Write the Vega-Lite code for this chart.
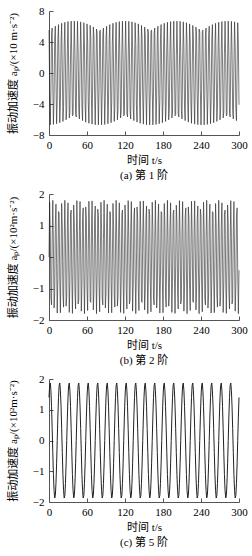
{
"$schema": "https://vega.github.io/schema/vega-lite/v6.json",
"padding": {"left": 7, "top": 5, "right": 0, "bottom": 0},
"autosize": {"type": "pad"},
"config": {
  "view": {"stroke": null},
  "font": "Liberation Serif, Noto Sans CJK SC",
  "axis": {"grid": false, "domainColor": "#555", "tickColor": "#555", "tickSize": -4, "domainWidth": 1, "tickWidth": 1,
    "labelFont": "Liberation Serif", "labelFontSize": 11, "labelColor": "#000", "labelPadding": 9,
    "titleFont": "Liberation Serif, Noto Sans CJK SC", "titleFontSize": 11, "titleFontWeight": "normal", "titleColor": "#000"},
  "axisX": {"labelPadding": 8},
  "title": {"font": "Liberation Serif, Noto Sans CJK SC", "fontSize": 11, "fontWeight": "normal", "color": "#000", "offset": 5}
},
"bounds": "flush",
"spacing": 59,
"datasets": {
"p1": [
{"t":0,"a":5.53},{"t":1,"a":-1.80},{"t":2,"a":-6.69},{"t":3,"a":-2.53},{"t":4,"a":5.05},{"t":5,"a":5.80},{"t":6,"a":-1.29},{"t":7,"a":-6.64},{"t":8,"a":-3.01},{"t":9,"a":4.69},
{"t":10,"a":6.04},{"t":11,"a":-0.78},{"t":12,"a":-6.55},{"t":13,"a":-3.46},{"t":14,"a":4.31},{"t":15,"a":6.25},{"t":16,"a":-0.26},{"t":17,"a":-6.42},{"t":18,"a":-3.90},{"t":19,"a":3.90},
{"t":20,"a":6.42},{"t":21,"a":0.26},{"t":22,"a":-6.25},{"t":23,"a":-4.31},{"t":24,"a":3.46},{"t":25,"a":6.55},{"t":26,"a":0.78},{"t":27,"a":-6.04},{"t":28,"a":-4.69},{"t":29,"a":3.01},
{"t":30,"a":6.64},{"t":31,"a":1.29},{"t":32,"a":-5.80},{"t":33,"a":-5.05},{"t":34,"a":2.53},{"t":35,"a":6.69},{"t":36,"a":1.80},{"t":37,"a":-5.53},{"t":38,"a":-5.37},{"t":39,"a":2.05},
{"t":40,"a":6.70},{"t":41,"a":2.29},{"t":42,"a":-5.22},{"t":43,"a":-5.67},{"t":44,"a":1.55},{"t":45,"a":6.67},{"t":46,"a":2.77},{"t":47,"a":-4.87},{"t":48,"a":-5.93},{"t":49,"a":1.04},
{"t":50,"a":6.60},{"t":51,"a":3.24},{"t":52,"a":-4.50},{"t":53,"a":-6.15},{"t":54,"a":0.52},{"t":55,"a":6.49},{"t":56,"a":3.68},{"t":57,"a":-4.10},{"t":58,"a":-6.34},{"t":59,"a":0},
{"t":60,"a":6.34},{"t":61,"a":4.10},{"t":62,"a":-3.68},{"t":63,"a":-6.49},{"t":64,"a":-0.52},{"t":65,"a":6.15},{"t":66,"a":4.50},{"t":67,"a":-3.24},{"t":68,"a":-6.60},{"t":69,"a":-1.04},
{"t":70,"a":5.93},{"t":71,"a":4.87},{"t":72,"a":-2.77},{"t":73,"a":-6.67},{"t":74,"a":-1.55},{"t":75,"a":5.67},{"t":76,"a":5.22},{"t":77,"a":-2.29},{"t":78,"a":-6.70},{"t":79,"a":-2.05},
{"t":80,"a":5.37},
{"t":81,"a":5.53},{"t":82,"a":-1.80},{"t":83,"a":-6.69},{"t":84,"a":-2.53},{"t":85,"a":5.05},{"t":86,"a":5.80},{"t":87,"a":-1.29},{"t":88,"a":-6.64},{"t":89,"a":-3.01},{"t":90,"a":4.69},
{"t":91,"a":6.04},{"t":92,"a":-0.78},{"t":93,"a":-6.55},{"t":94,"a":-3.46},{"t":95,"a":4.31},{"t":96,"a":6.25},{"t":97,"a":-0.26},{"t":98,"a":-6.42},{"t":99,"a":-3.90},{"t":100,"a":3.90},
{"t":101,"a":6.42},{"t":102,"a":0.26},{"t":103,"a":-6.25},{"t":104,"a":-4.31},{"t":105,"a":3.46},{"t":106,"a":6.55},{"t":107,"a":0.78},{"t":108,"a":-6.04},{"t":109,"a":-4.69},{"t":110,"a":3.01},
{"t":111,"a":6.64},{"t":112,"a":1.29},{"t":113,"a":-5.80},{"t":114,"a":-5.05},{"t":115,"a":2.53},{"t":116,"a":6.69},{"t":117,"a":1.80},{"t":118,"a":-5.53},{"t":119,"a":-5.37},{"t":120,"a":2.05},
{"t":121,"a":6.70},{"t":122,"a":2.29},{"t":123,"a":-5.22},{"t":124,"a":-5.67},{"t":125,"a":1.55},{"t":126,"a":6.67},{"t":127,"a":2.77},{"t":128,"a":-4.87},{"t":129,"a":-5.93},{"t":130,"a":1.04},
{"t":131,"a":6.60},{"t":132,"a":3.24},{"t":133,"a":-4.50},{"t":134,"a":-6.15},{"t":135,"a":0.52},{"t":136,"a":6.49},{"t":137,"a":3.68},{"t":138,"a":-4.10},{"t":139,"a":-6.34},{"t":140,"a":0},
{"t":141,"a":6.34},{"t":142,"a":4.10},{"t":143,"a":-3.68},{"t":144,"a":-6.49},{"t":145,"a":-0.52},{"t":146,"a":6.15},{"t":147,"a":4.50},{"t":148,"a":-3.24},{"t":149,"a":-6.60},{"t":150,"a":-1.04},
{"t":151,"a":5.93},{"t":152,"a":4.87},{"t":153,"a":-2.77},{"t":154,"a":-6.67},{"t":155,"a":-1.55},{"t":156,"a":5.67},{"t":157,"a":5.22},{"t":158,"a":-2.29},{"t":159,"a":-6.70},{"t":160,"a":-2.05},
{"t":161,"a":5.37},
{"t":162,"a":5.53},{"t":163,"a":-1.80},{"t":164,"a":-6.69},{"t":165,"a":-2.53},{"t":166,"a":5.05},{"t":167,"a":5.80},{"t":168,"a":-1.29},{"t":169,"a":-6.64},{"t":170,"a":-3.01},{"t":171,"a":4.69},
{"t":172,"a":6.04},{"t":173,"a":-0.78},{"t":174,"a":-6.55},{"t":175,"a":-3.46},{"t":176,"a":4.31},{"t":177,"a":6.25},{"t":178,"a":-0.26},{"t":179,"a":-6.42},{"t":180,"a":-3.90},{"t":181,"a":3.90},
{"t":182,"a":6.42},{"t":183,"a":0.26},{"t":184,"a":-6.25},{"t":185,"a":-4.31},{"t":186,"a":3.46},{"t":187,"a":6.55},{"t":188,"a":0.78},{"t":189,"a":-6.04},{"t":190,"a":-4.69},{"t":191,"a":3.01},
{"t":192,"a":6.64},{"t":193,"a":1.29},{"t":194,"a":-5.80},{"t":195,"a":-5.05},{"t":196,"a":2.53},{"t":197,"a":6.69},{"t":198,"a":1.80},{"t":199,"a":-5.53},{"t":200,"a":-5.37},{"t":201,"a":2.05},
{"t":202,"a":6.70},{"t":203,"a":2.29},{"t":204,"a":-5.22},{"t":205,"a":-5.67},{"t":206,"a":1.55},{"t":207,"a":6.67},{"t":208,"a":2.77},{"t":209,"a":-4.87},{"t":210,"a":-5.93},{"t":211,"a":1.04},
{"t":212,"a":6.60},{"t":213,"a":3.24},{"t":214,"a":-4.50},{"t":215,"a":-6.15},{"t":216,"a":0.52},{"t":217,"a":6.49},{"t":218,"a":3.68},{"t":219,"a":-4.10},{"t":220,"a":-6.34},{"t":221,"a":0},
{"t":222,"a":6.34},{"t":223,"a":4.10},{"t":224,"a":-3.68},{"t":225,"a":-6.49},{"t":226,"a":-0.52},{"t":227,"a":6.15},{"t":228,"a":4.50},{"t":229,"a":-3.24},{"t":230,"a":-6.60},{"t":231,"a":-1.04},
{"t":232,"a":5.93},{"t":233,"a":4.87},{"t":234,"a":-2.77},{"t":235,"a":-6.67},{"t":236,"a":-1.55},{"t":237,"a":5.67},{"t":238,"a":5.22},{"t":239,"a":-2.29},{"t":240,"a":-6.70},{"t":241,"a":-2.05},
{"t":242,"a":5.37},
{"t":243,"a":5.53},{"t":244,"a":-1.80},{"t":245,"a":-6.69},{"t":246,"a":-2.53},{"t":247,"a":5.05},{"t":248,"a":5.80},{"t":249,"a":-1.29},{"t":250,"a":-6.64},{"t":251,"a":-3.01},{"t":252,"a":4.69},
{"t":253,"a":6.04},{"t":254,"a":-0.78},{"t":255,"a":-6.55},{"t":256,"a":-3.46},{"t":257,"a":4.31},{"t":258,"a":6.25},{"t":259,"a":-0.26},{"t":260,"a":-6.42},{"t":261,"a":-3.90},{"t":262,"a":3.90},
{"t":263,"a":6.42},{"t":264,"a":0.26},{"t":265,"a":-6.25},{"t":266,"a":-4.31},{"t":267,"a":3.46},{"t":268,"a":6.55},{"t":269,"a":0.78},{"t":270,"a":-6.04},{"t":271,"a":-4.69},{"t":272,"a":3.01},
{"t":273,"a":6.64},{"t":274,"a":1.29},{"t":275,"a":-5.80},{"t":276,"a":-5.05},{"t":277,"a":2.53},{"t":278,"a":6.69},{"t":279,"a":1.80},{"t":280,"a":-5.53},{"t":281,"a":-5.37},{"t":282,"a":2.05},
{"t":283,"a":6.70},{"t":284,"a":2.29},{"t":285,"a":-5.22},{"t":286,"a":-5.67},{"t":287,"a":1.55},{"t":288,"a":6.67},{"t":289,"a":2.77},{"t":290,"a":-4.87},{"t":291,"a":-5.93},{"t":292,"a":1.04},
{"t":293,"a":6.60},{"t":294,"a":3.24},{"t":295,"a":-4.50},{"t":296,"a":-6.15},{"t":297,"a":0.52},{"t":298,"a":6.49},{"t":299,"a":3.68},{"t":300,"a":-4.10}
],
"p2": [
{"t":0,"a":0},{"t":1,"a":1.74},{"t":2,"a":0.87},{"t":3,"a":-1.31},{"t":4,"a":-1.52},{"t":5,"a":0.55},{"t":6,"a":1.80},{"t":7,"a":0.35},{"t":8,"a":-1.62},{"t":9,"a":-1.16},
{"t":10,"a":1.05},{"t":11,"a":1.68},{"t":12,"a":-0.21},{"t":13,"a":-1.78},{"t":14,"a":-0.68},{"t":15,"a":1.44},{"t":16,"a":1.40},{"t":17,"a":-0.74},{"t":18,"a":-1.77},{"t":19,"a":-0.14},
{"t":20,"a":1.70},{"t":21,"a":0.99},{"t":22,"a":-1.21},{"t":23,"a":-1.59},{"t":24,"a":0.42},{"t":25,"a":1.80},{"t":26,"a":0.48},{"t":27,"a":-1.56},{"t":28,"a":-1.26},{"t":29,"a":0.93},
{"t":30,"a":1.72},{"t":31,"a":-0.07},{"t":32,"a":-1.76},{"t":33,"a":-0.81},{"t":34,"a":1.36},{"t":35,"a":1.49},{"t":36,"a":-0.62},{"t":37,"a":-1.79},{"t":38,"a":-0.28},{"t":39,"a":1.65},
{"t":40,"a":1.10},{"t":41,"a":-1.10},{"t":42,"a":-1.65},{"t":43,"a":0.28},{"t":44,"a":1.79},{"t":45,"a":0.62},{"t":46,"a":-1.49},{"t":47,"a":-1.36},{"t":48,"a":0.81},{"t":49,"a":1.76},
{"t":50,"a":0.07},{"t":51,"a":-1.72},{"t":52,"a":-0.93},{"t":53,"a":1.26},{"t":54,"a":1.56},{"t":55,"a":-0.48},{"t":56,"a":-1.80},{"t":57,"a":-0.42},{"t":58,"a":1.59},{"t":59,"a":1.21},
{"t":60,"a":-0.99},{"t":61,"a":-1.70},{"t":62,"a":0.14},{"t":63,"a":1.77},{"t":64,"a":0.74},{"t":65,"a":-1.40},{"t":66,"a":-1.44},{"t":67,"a":0.68},{"t":68,"a":1.78},{"t":69,"a":0.21},
{"t":70,"a":-1.68},{"t":71,"a":-1.05},{"t":72,"a":1.16},{"t":73,"a":1.62},{"t":74,"a":-0.35},{"t":75,"a":-1.80},{"t":76,"a":-0.55},{"t":77,"a":1.52},{"t":78,"a":1.31},{"t":79,"a":-0.87},
{"t":80,"a":-1.74},
{"t":81,"a":0},{"t":82,"a":1.74},{"t":83,"a":0.87},{"t":84,"a":-1.31},{"t":85,"a":-1.52},{"t":86,"a":0.55},{"t":87,"a":1.80},{"t":88,"a":0.35},{"t":89,"a":-1.62},{"t":90,"a":-1.16},
{"t":91,"a":1.05},{"t":92,"a":1.68},{"t":93,"a":-0.21},{"t":94,"a":-1.78},{"t":95,"a":-0.68},{"t":96,"a":1.44},{"t":97,"a":1.40},{"t":98,"a":-0.74},{"t":99,"a":-1.77},{"t":100,"a":-0.14},
{"t":101,"a":1.70},{"t":102,"a":0.99},{"t":103,"a":-1.21},{"t":104,"a":-1.59},{"t":105,"a":0.42},{"t":106,"a":1.80},{"t":107,"a":0.48},{"t":108,"a":-1.56},{"t":109,"a":-1.26},{"t":110,"a":0.93},
{"t":111,"a":1.72},{"t":112,"a":-0.07},{"t":113,"a":-1.76},{"t":114,"a":-0.81},{"t":115,"a":1.36},{"t":116,"a":1.49},{"t":117,"a":-0.62},{"t":118,"a":-1.79},{"t":119,"a":-0.28},{"t":120,"a":1.65},
{"t":121,"a":1.10},{"t":122,"a":-1.10},{"t":123,"a":-1.65},{"t":124,"a":0.28},{"t":125,"a":1.79},{"t":126,"a":0.62},{"t":127,"a":-1.49},{"t":128,"a":-1.36},{"t":129,"a":0.81},{"t":130,"a":1.76},
{"t":131,"a":0.07},{"t":132,"a":-1.72},{"t":133,"a":-0.93},{"t":134,"a":1.26},{"t":135,"a":1.56},{"t":136,"a":-0.48},{"t":137,"a":-1.80},{"t":138,"a":-0.42},{"t":139,"a":1.59},{"t":140,"a":1.21},
{"t":141,"a":-0.99},{"t":142,"a":-1.70},{"t":143,"a":0.14},{"t":144,"a":1.77},{"t":145,"a":0.74},{"t":146,"a":-1.40},{"t":147,"a":-1.44},{"t":148,"a":0.68},{"t":149,"a":1.78},{"t":150,"a":0.21},
{"t":151,"a":-1.68},{"t":152,"a":-1.05},{"t":153,"a":1.16},{"t":154,"a":1.62},{"t":155,"a":-0.35},{"t":156,"a":-1.80},{"t":157,"a":-0.55},{"t":158,"a":1.52},{"t":159,"a":1.31},{"t":160,"a":-0.87},
{"t":161,"a":-1.74},
{"t":162,"a":0},{"t":163,"a":1.74},{"t":164,"a":0.87},{"t":165,"a":-1.31},{"t":166,"a":-1.52},{"t":167,"a":0.55},{"t":168,"a":1.80},{"t":169,"a":0.35},{"t":170,"a":-1.62},{"t":171,"a":-1.16},
{"t":172,"a":1.05},{"t":173,"a":1.68},{"t":174,"a":-0.21},{"t":175,"a":-1.78},{"t":176,"a":-0.68},{"t":177,"a":1.44},{"t":178,"a":1.40},{"t":179,"a":-0.74},{"t":180,"a":-1.77},{"t":181,"a":-0.14},
{"t":182,"a":1.70},{"t":183,"a":0.99},{"t":184,"a":-1.21},{"t":185,"a":-1.59},{"t":186,"a":0.42},{"t":187,"a":1.80},{"t":188,"a":0.48},{"t":189,"a":-1.56},{"t":190,"a":-1.26},{"t":191,"a":0.93},
{"t":192,"a":1.72},{"t":193,"a":-0.07},{"t":194,"a":-1.76},{"t":195,"a":-0.81},{"t":196,"a":1.36},{"t":197,"a":1.49},{"t":198,"a":-0.62},{"t":199,"a":-1.79},{"t":200,"a":-0.28},{"t":201,"a":1.65},
{"t":202,"a":1.10},{"t":203,"a":-1.10},{"t":204,"a":-1.65},{"t":205,"a":0.28},{"t":206,"a":1.79},{"t":207,"a":0.62},{"t":208,"a":-1.49},{"t":209,"a":-1.36},{"t":210,"a":0.81},{"t":211,"a":1.76},
{"t":212,"a":0.07},{"t":213,"a":-1.72},{"t":214,"a":-0.93},{"t":215,"a":1.26},{"t":216,"a":1.56},{"t":217,"a":-0.48},{"t":218,"a":-1.80},{"t":219,"a":-0.42},{"t":220,"a":1.59},{"t":221,"a":1.21},
{"t":222,"a":-0.99},{"t":223,"a":-1.70},{"t":224,"a":0.14},{"t":225,"a":1.77},{"t":226,"a":0.74},{"t":227,"a":-1.40},{"t":228,"a":-1.44},{"t":229,"a":0.68},{"t":230,"a":1.78},{"t":231,"a":0.21},
{"t":232,"a":-1.68},{"t":233,"a":-1.05},{"t":234,"a":1.16},{"t":235,"a":1.62},{"t":236,"a":-0.35},{"t":237,"a":-1.80},{"t":238,"a":-0.55},{"t":239,"a":1.52},{"t":240,"a":1.31},{"t":241,"a":-0.87},
{"t":242,"a":-1.74},
{"t":243,"a":0},{"t":244,"a":1.74},{"t":245,"a":0.87},{"t":246,"a":-1.31},{"t":247,"a":-1.52},{"t":248,"a":0.55},{"t":249,"a":1.80},{"t":250,"a":0.35},{"t":251,"a":-1.62},{"t":252,"a":-1.16},
{"t":253,"a":1.05},{"t":254,"a":1.68},{"t":255,"a":-0.21},{"t":256,"a":-1.78},{"t":257,"a":-0.68},{"t":258,"a":1.44},{"t":259,"a":1.40},{"t":260,"a":-0.74},{"t":261,"a":-1.77},{"t":262,"a":-0.14},
{"t":263,"a":1.70},{"t":264,"a":0.99},{"t":265,"a":-1.21},{"t":266,"a":-1.59},{"t":267,"a":0.42},{"t":268,"a":1.80},{"t":269,"a":0.48},{"t":270,"a":-1.56},{"t":271,"a":-1.26},{"t":272,"a":0.93},
{"t":273,"a":1.72},{"t":274,"a":-0.07},{"t":275,"a":-1.76},{"t":276,"a":-0.81},{"t":277,"a":1.36},{"t":278,"a":1.49},{"t":279,"a":-0.62},{"t":280,"a":-1.79},{"t":281,"a":-0.28},{"t":282,"a":1.65},
{"t":283,"a":1.10},{"t":284,"a":-1.10},{"t":285,"a":-1.65},{"t":286,"a":0.28},{"t":287,"a":1.79},{"t":288,"a":0.62},{"t":289,"a":-1.49},{"t":290,"a":-1.36},{"t":291,"a":0.81},{"t":292,"a":1.76},
{"t":293,"a":0.07},{"t":294,"a":-1.72},{"t":295,"a":-0.93},{"t":296,"a":1.26},{"t":297,"a":1.56},{"t":298,"a":-0.48},{"t":299,"a":-1.80},{"t":300,"a":-0.42}
],
"p3": [
{"t":0,"a":1.40},{"t":1,"a":1.79},{"t":2,"a":1.87},{"t":3,"a":1.63},{"t":4,"a":1.11},{"t":5,"a":0.39},{"t":6,"a":-0.39},{"t":7,"a":-1.11},{"t":8,"a":-1.63},{"t":9,"a":-1.87},{"t":10,"a":-1.79},{"t":11,"a":-1.40},{"t":12,"a":-0.76},{"t":13,"a":0},{"t":14,"a":0.76},
{"t":15,"a":1.40},{"t":16,"a":1.79},{"t":17,"a":1.87},{"t":18,"a":1.63},{"t":19,"a":1.11},{"t":20,"a":0.39},{"t":21,"a":-0.39},{"t":22,"a":-1.11},{"t":23,"a":-1.63},{"t":24,"a":-1.87},{"t":25,"a":-1.79},{"t":26,"a":-1.40},{"t":27,"a":-0.76},{"t":28,"a":0},{"t":29,"a":0.76},
{"t":30,"a":1.40},{"t":31,"a":1.79},{"t":32,"a":1.87},{"t":33,"a":1.63},{"t":34,"a":1.11},{"t":35,"a":0.39},{"t":36,"a":-0.39},{"t":37,"a":-1.11},{"t":38,"a":-1.63},{"t":39,"a":-1.87},{"t":40,"a":-1.79},{"t":41,"a":-1.40},{"t":42,"a":-0.76},{"t":43,"a":0},{"t":44,"a":0.76},
{"t":45,"a":1.40},{"t":46,"a":1.79},{"t":47,"a":1.87},{"t":48,"a":1.63},{"t":49,"a":1.11},{"t":50,"a":0.39},{"t":51,"a":-0.39},{"t":52,"a":-1.11},{"t":53,"a":-1.63},{"t":54,"a":-1.87},{"t":55,"a":-1.79},{"t":56,"a":-1.40},{"t":57,"a":-0.76},{"t":58,"a":0},{"t":59,"a":0.76},
{"t":60,"a":1.40},{"t":61,"a":1.79},{"t":62,"a":1.87},{"t":63,"a":1.63},{"t":64,"a":1.11},{"t":65,"a":0.39},{"t":66,"a":-0.39},{"t":67,"a":-1.11},{"t":68,"a":-1.63},{"t":69,"a":-1.87},{"t":70,"a":-1.79},{"t":71,"a":-1.40},{"t":72,"a":-0.76},{"t":73,"a":0},{"t":74,"a":0.76},
{"t":75,"a":1.40},{"t":76,"a":1.79},{"t":77,"a":1.87},{"t":78,"a":1.63},{"t":79,"a":1.11},{"t":80,"a":0.39},{"t":81,"a":-0.39},{"t":82,"a":-1.11},{"t":83,"a":-1.63},{"t":84,"a":-1.87},{"t":85,"a":-1.79},{"t":86,"a":-1.40},{"t":87,"a":-0.76},{"t":88,"a":0},{"t":89,"a":0.76},
{"t":90,"a":1.40},{"t":91,"a":1.79},{"t":92,"a":1.87},{"t":93,"a":1.63},{"t":94,"a":1.11},{"t":95,"a":0.39},{"t":96,"a":-0.39},{"t":97,"a":-1.11},{"t":98,"a":-1.63},{"t":99,"a":-1.87},{"t":100,"a":-1.79},{"t":101,"a":-1.40},{"t":102,"a":-0.76},{"t":103,"a":0},{"t":104,"a":0.76},
{"t":105,"a":1.40},{"t":106,"a":1.79},{"t":107,"a":1.87},{"t":108,"a":1.63},{"t":109,"a":1.11},{"t":110,"a":0.39},{"t":111,"a":-0.39},{"t":112,"a":-1.11},{"t":113,"a":-1.63},{"t":114,"a":-1.87},{"t":115,"a":-1.79},{"t":116,"a":-1.40},{"t":117,"a":-0.76},{"t":118,"a":0},{"t":119,"a":0.76},
{"t":120,"a":1.40},{"t":121,"a":1.79},{"t":122,"a":1.87},{"t":123,"a":1.63},{"t":124,"a":1.11},{"t":125,"a":0.39},{"t":126,"a":-0.39},{"t":127,"a":-1.11},{"t":128,"a":-1.63},{"t":129,"a":-1.87},{"t":130,"a":-1.79},{"t":131,"a":-1.40},{"t":132,"a":-0.76},{"t":133,"a":0},{"t":134,"a":0.76},
{"t":135,"a":1.40},{"t":136,"a":1.79},{"t":137,"a":1.87},{"t":138,"a":1.63},{"t":139,"a":1.11},{"t":140,"a":0.39},{"t":141,"a":-0.39},{"t":142,"a":-1.11},{"t":143,"a":-1.63},{"t":144,"a":-1.87},{"t":145,"a":-1.79},{"t":146,"a":-1.40},{"t":147,"a":-0.76},{"t":148,"a":0},{"t":149,"a":0.76},
{"t":150,"a":1.40},{"t":151,"a":1.79},{"t":152,"a":1.87},{"t":153,"a":1.63},{"t":154,"a":1.11},{"t":155,"a":0.39},{"t":156,"a":-0.39},{"t":157,"a":-1.11},{"t":158,"a":-1.63},{"t":159,"a":-1.87},{"t":160,"a":-1.79},{"t":161,"a":-1.40},{"t":162,"a":-0.76},{"t":163,"a":0},{"t":164,"a":0.76},
{"t":165,"a":1.40},{"t":166,"a":1.79},{"t":167,"a":1.87},{"t":168,"a":1.63},{"t":169,"a":1.11},{"t":170,"a":0.39},{"t":171,"a":-0.39},{"t":172,"a":-1.11},{"t":173,"a":-1.63},{"t":174,"a":-1.87},{"t":175,"a":-1.79},{"t":176,"a":-1.40},{"t":177,"a":-0.76},{"t":178,"a":0},{"t":179,"a":0.76},
{"t":180,"a":1.40},{"t":181,"a":1.79},{"t":182,"a":1.87},{"t":183,"a":1.63},{"t":184,"a":1.11},{"t":185,"a":0.39},{"t":186,"a":-0.39},{"t":187,"a":-1.11},{"t":188,"a":-1.63},{"t":189,"a":-1.87},{"t":190,"a":-1.79},{"t":191,"a":-1.40},{"t":192,"a":-0.76},{"t":193,"a":0},{"t":194,"a":0.76},
{"t":195,"a":1.40},{"t":196,"a":1.79},{"t":197,"a":1.87},{"t":198,"a":1.63},{"t":199,"a":1.11},{"t":200,"a":0.39},{"t":201,"a":-0.39},{"t":202,"a":-1.11},{"t":203,"a":-1.63},{"t":204,"a":-1.87},{"t":205,"a":-1.79},{"t":206,"a":-1.40},{"t":207,"a":-0.76},{"t":208,"a":0},{"t":209,"a":0.76},
{"t":210,"a":1.40},{"t":211,"a":1.79},{"t":212,"a":1.87},{"t":213,"a":1.63},{"t":214,"a":1.11},{"t":215,"a":0.39},{"t":216,"a":-0.39},{"t":217,"a":-1.11},{"t":218,"a":-1.63},{"t":219,"a":-1.87},{"t":220,"a":-1.79},{"t":221,"a":-1.40},{"t":222,"a":-0.76},{"t":223,"a":0},{"t":224,"a":0.76},
{"t":225,"a":1.40},{"t":226,"a":1.79},{"t":227,"a":1.87},{"t":228,"a":1.63},{"t":229,"a":1.11},{"t":230,"a":0.39},{"t":231,"a":-0.39},{"t":232,"a":-1.11},{"t":233,"a":-1.63},{"t":234,"a":-1.87},{"t":235,"a":-1.79},{"t":236,"a":-1.40},{"t":237,"a":-0.76},{"t":238,"a":0},{"t":239,"a":0.76},
{"t":240,"a":1.40},{"t":241,"a":1.79},{"t":242,"a":1.87},{"t":243,"a":1.63},{"t":244,"a":1.11},{"t":245,"a":0.39},{"t":246,"a":-0.39},{"t":247,"a":-1.11},{"t":248,"a":-1.63},{"t":249,"a":-1.87},{"t":250,"a":-1.79},{"t":251,"a":-1.40},{"t":252,"a":-0.76},{"t":253,"a":0},{"t":254,"a":0.76},
{"t":255,"a":1.40},{"t":256,"a":1.79},{"t":257,"a":1.87},{"t":258,"a":1.63},{"t":259,"a":1.11},{"t":260,"a":0.39},{"t":261,"a":-0.39},{"t":262,"a":-1.11},{"t":263,"a":-1.63},{"t":264,"a":-1.87},{"t":265,"a":-1.79},{"t":266,"a":-1.40},{"t":267,"a":-0.76},{"t":268,"a":0},{"t":269,"a":0.76},
{"t":270,"a":1.40},{"t":271,"a":1.79},{"t":272,"a":1.87},{"t":273,"a":1.63},{"t":274,"a":1.11},{"t":275,"a":0.39},{"t":276,"a":-0.39},{"t":277,"a":-1.11},{"t":278,"a":-1.63},{"t":279,"a":-1.87},{"t":280,"a":-1.79},{"t":281,"a":-1.40},{"t":282,"a":-0.76},{"t":283,"a":0},{"t":284,"a":0.76},
{"t":285,"a":1.40},{"t":286,"a":1.79},{"t":287,"a":1.87},{"t":288,"a":1.63},{"t":289,"a":1.11},{"t":290,"a":0.39},{"t":291,"a":-0.39},{"t":292,"a":-1.11},{"t":293,"a":-1.63},{"t":294,"a":-1.87},{"t":295,"a":-1.79},{"t":296,"a":-1.40},{"t":297,"a":-0.76},{"t":298,"a":0},{"t":299,"a":0.76},
{"t":300,"a":1.40}
]
},
"vconcat": [
{
  "data": {"name": "p1"},
  "width": 190, "height": 124,
  "title": {"text": "(a) 第 1 阶", "orient": "bottom"},
  "mark": {"type": "line", "color": "#222", "strokeWidth": 0.6},
  "encoding": {
    "x": {"field": "t", "type": "quantitative", "scale": {"domain": [0, 300], "nice": false}, "axis": {"values": [0,60,120,180,240,300], "labelFlush": false, "title": "时间 t/s", "titlePadding": 4}},
    "y": {"field": "a", "type": "quantitative", "scale": {"domain": [-8, 8], "nice": false}, "axis": {"values": [-8,-4,0,4,8], "title": "振动加速度 aₚ/(×10 m·s⁻²)", "titlePadding": 14}}
  }
},
{
  "data": {"name": "p2"},
  "width": 190, "height": 126,
  "title": {"text": "(b) 第 2 阶", "orient": "bottom"},
  "mark": {"type": "line", "color": "#222", "strokeWidth": 0.6},
  "encoding": {
    "x": {"field": "t", "type": "quantitative", "scale": {"domain": [0, 300], "nice": false}, "axis": {"values": [0,60,120,180,240,300], "labelFlush": false, "title": "时间 t/s", "titlePadding": 4}},
    "y": {"field": "a", "type": "quantitative", "scale": {"domain": [-2, 2], "nice": false}, "axis": {"values": [-2,-1,0,1,2], "title": "振动加速度 aₚ/(×10²m·s⁻²)", "titlePadding": 14}}
  }
},
{
  "data": {"name": "p3"},
  "width": 190, "height": 123,
  "title": {"text": "(c) 第 5 阶", "orient": "bottom"},
  "mark": {"type": "line", "color": "#222", "strokeWidth": 1},
  "encoding": {
    "x": {"field": "t", "type": "quantitative", "scale": {"domain": [0, 300], "nice": false}, "axis": {"values": [0,60,120,180,240,300], "labelFlush": false, "title": "时间 t/s", "titlePadding": 4}},
    "y": {"field": "a", "type": "quantitative", "scale": {"domain": [-2, 2], "nice": false}, "axis": {"values": [-2,-1,0,1,2], "title": "振动加速度 aₚ/(×10²m·s⁻²)", "titlePadding": 14}}
  }
}
]
}
